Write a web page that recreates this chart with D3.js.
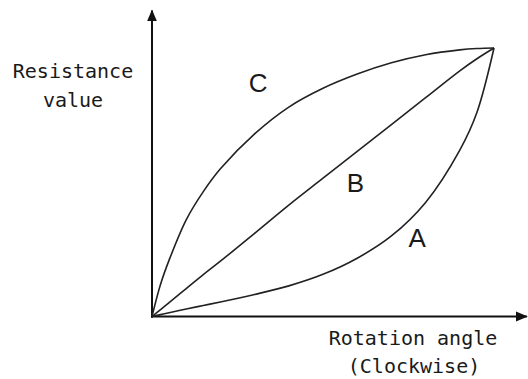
<!DOCTYPE html>
<html>
<head>
<meta charset="utf-8">
<script src="https://d3js.org/d3.v7.min.js"></script>
<style>
  body { margin: 0; background: #fff; }
  svg { display: block; }
  .lbl { font-family: "DejaVu Sans Mono", monospace; font-size: 20px; fill: #1a1a1a; }
  .curve-name { font-family: "Liberation Sans", Arial, sans-serif; font-size: 26px; fill: #1a1a1a; }
</style>
</head>
<body>
<svg id="chart" width="528" height="379"></svg>
<script>
// rotation angle, % of full travel
var angle = [0, 2.5, 5, 10, 15, 20, 30, 40, 50, 60, 70, 80, 90, 95, 100];

// resistance value, % of full scale
var taperA = [0, 0.7, 1.4, 2.8, 4.1, 5.4, 8.2, 11.4, 15.7, 21.7, 30, 42.5, 62, 76, 100];
var taperB = [0, 2.6, 5.2, 10.4, 15.6, 20.6, 31, 41.5, 51.5, 61.5, 71.5, 81.5, 91.5, 96, 100];
var taperC = [0, 12, 21, 36, 46.5, 55, 68, 78, 85, 90.3, 94.5, 97.5, 99.3, 99.8, 100];

var curveNames = ["A", "B", "C"];
// where the letter sits, as [angle, resistance]
var namePos = [[77.5, 26], [59.5, 46.5], [31, 83.5]];

var svg = d3.select("#chart");

var x = d3.scaleLinear().domain([0, 100]).range([152, 494]);
var y = d3.scaleLinear().domain([0, 100]).range([316.5, 48]);

// arrow heads
var defs = svg.append("defs");
defs.append("marker")
  .attr("id", "arrow")
  .attr("viewBox", "0 0 12 12")
  .attr("refX", 11)
  .attr("refY", 6)
  .attr("markerWidth", 12)
  .attr("markerHeight", 12)
  .attr("markerUnits", "userSpaceOnUse")
  .attr("orient", "auto")
  .append("path")
  .attr("d", "M0,1 L12,6 L0,11 Z")
  .attr("fill", "#111");

// axes (plain lines, no ticks)
svg.append("line")
  .attr("x1", x(0)).attr("y1", y(-0.5))
  .attr("x2", x(0)).attr("y2", y(114))
  .attr("stroke", "#111")
  .attr("stroke-width", 2)
  .attr("marker-end", "url(#arrow)");

svg.append("line")
  .attr("x1", x(-0.3)).attr("y1", y(0))
  .attr("x2", x(109.6)).attr("y2", y(0))
  .attr("stroke", "#111")
  .attr("stroke-width", 2)
  .attr("marker-end", "url(#arrow)");

var line = d3.line()
  .x(function(d) { return x(d[0]); })
  .y(function(d) { return y(d[1]); })
  .curve(d3.curveCatmullRom.alpha(0.5));

var series = [taperA, taperB, taperC];

svg.append("g")
  .attr("class", "curves")
  .selectAll("path")
  .data(series)
  .enter().append("path")
  .attr("d", function(vals) {
    return line(angle.map(function(a, i) { return [a, vals[i]]; }));
  })
  .attr("fill", "none")
  .attr("stroke", "#222")
  .attr("stroke-width", 1.6);

svg.append("g")
  .selectAll("text")
  .data(curveNames)
  .enter().append("text")
  .attr("class", "curve-name")
  .attr("x", function(d, i) { return x(namePos[i][0]); })
  .attr("y", function(d, i) { return y(namePos[i][1]); })
  .attr("text-anchor", "middle")
  .text(function(d) { return d; });

// axis titles
svg.append("text").attr("class", "lbl")
  .attr("x", 73).attr("y", 78).attr("text-anchor", "middle")
  .text("Resistance");
svg.append("text").attr("class", "lbl")
  .attr("x", 73).attr("y", 107).attr("text-anchor", "middle")
  .text("value");

svg.append("text").attr("class", "lbl")
  .attr("x", 413).attr("y", 345).attr("text-anchor", "middle")
  .text("Rotation angle");
svg.append("text").attr("class", "lbl")
  .attr("x", 414).attr("y", 373).attr("text-anchor", "middle")
  .text("(Clockwise)");
</script>
</body>
</html>
